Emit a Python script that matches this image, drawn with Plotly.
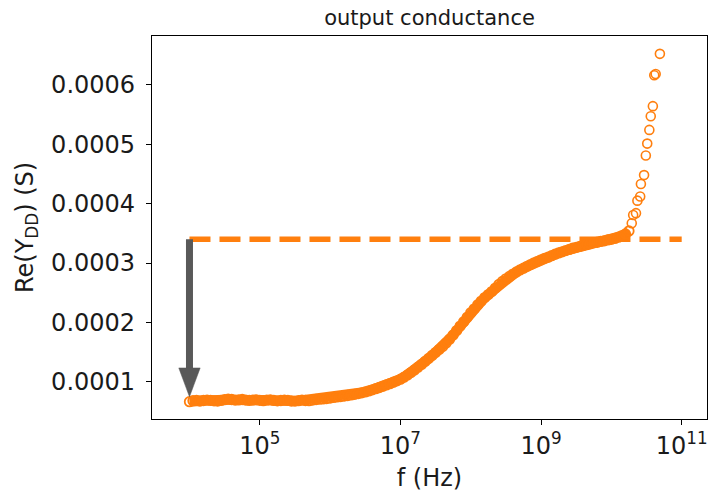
import plotly.graph_objects as go

# ---------------- data ----------------
# dense part of the sweep: log10(frequency) and Re(Y_DD) in units of 1e-5 S
log_f_dense = [
    4.00, 4.05, 4.10, 4.15, 4.20, 4.25, 4.30, 4.35, 4.40, 4.45,
    4.50, 4.55, 4.60, 4.65, 4.70, 4.75, 4.80, 4.85, 4.90, 4.95,
    5.00, 5.05, 5.10, 5.15, 5.20, 5.25, 5.30, 5.35, 5.40, 5.45,
    5.50, 5.55, 5.60, 5.65, 5.70, 5.75, 5.80, 5.85, 5.90, 5.95,
    6.00, 6.05, 6.10, 6.15, 6.20, 6.25, 6.30, 6.35, 6.40, 6.45,
    6.50, 6.55, 6.60, 6.65, 6.70, 6.75, 6.80, 6.85, 6.90, 6.95,
    7.00, 7.05, 7.10, 7.15, 7.20, 7.25, 7.30, 7.35, 7.40, 7.45,
    7.50, 7.55, 7.60, 7.65, 7.70, 7.75, 7.80, 7.85, 7.90, 7.95,
    8.00, 8.05, 8.10, 8.15, 8.20, 8.25, 8.30, 8.35, 8.40, 8.45,
    8.50, 8.55, 8.60, 8.65, 8.70, 8.75, 8.80, 8.85, 8.90, 8.95,
    9.00, 9.05, 9.10, 9.15, 9.20, 9.25, 9.30, 9.35, 9.40, 9.45,
    9.50, 9.55, 9.60, 9.65, 9.70, 9.75, 9.80, 9.85, 9.90, 9.95,
    10.00, 10.05, 10.10, 10.15, 10.20, 10.25,
]
g_dense_e5 = [
    6.68, 6.85, 6.92, 6.80, 6.88, 6.95, 6.90, 6.82, 6.78, 6.90,
    7.02, 7.10, 7.05, 6.95, 6.98, 7.05, 6.96, 6.90, 6.95, 7.00,
    6.92, 6.86, 6.94, 6.98, 6.90, 6.82, 6.88, 6.95, 6.90, 6.80,
    6.78, 6.86, 6.93, 6.88, 6.85, 6.95, 7.05, 7.10, 7.15, 7.22,
    7.30, 7.40, 7.48, 7.55, 7.62, 7.72, 7.82, 7.92, 8.04, 8.18,
    8.33, 8.50, 8.68, 8.87, 9.07, 9.28, 9.50, 9.72, 9.95, 10.20,
    10.47, 10.80, 11.18, 11.58, 12.02, 12.48, 12.95, 13.45, 13.95, 14.45,
    14.95, 15.45, 15.97, 16.55, 17.20, 17.90, 18.65, 19.40, 20.15, 20.90,
    21.65, 22.30, 23.00, 23.60, 24.20, 24.70, 25.20, 25.80, 26.40, 26.90,
    27.35, 27.75, 28.15, 28.50, 28.85, 29.15, 29.45, 29.75, 30.05, 30.30,
    30.55, 30.80, 31.00, 31.25, 31.50, 31.70, 31.90, 32.10, 32.30, 32.50,
    32.65, 32.80, 32.95, 33.10, 33.25, 33.40, 33.50, 33.65, 33.75, 33.90,
    34.00, 34.15, 34.35, 34.60, 34.90, 35.40,
]
# sparse high-frequency tail
log_f_tail = [10.29, 10.31, 10.35, 10.37, 10.41, 10.42, 10.465, 10.49,
              10.51, 10.54, 10.56, 10.59, 10.61, 10.63, 10.69]
g_tail_e5 = [36.7, 38.1, 38.4, 40.5, 41.2, 43.3, 44.8, 48.1,
             50.1, 52.4, 54.7, 56.4, 61.6, 61.8, 65.2]

g_high = 0.00034          # high-frequency plateau (dashed reference)
f_line_end = 1e11          # dashed line end
arrow_tip = 0.000075       # arrow tip level
arrow_head_base = 0.0001236

x_tick_vals = [1e5, 1e7, 1e9, 1e11]
x_tick_text = ["10<sup>5</sup>", "10<sup>7</sup>", "10<sup>9</sup>", "10<sup>11</sup>"]
y_tick_vals = [0.0001, 0.0002, 0.0003, 0.0004, 0.0005, 0.0006]
y_tick_text = ["0.0001", "0.0002", "0.0003", "0.0004", "0.0005", "0.0006"]

# ---------------- derived ----------------
f_dense = [10 ** v for v in log_f_dense]
g_dense = [v * 1e-5 for v in g_dense_e5]
f_tail = [10 ** v for v in log_f_tail]
g_tail = [v * 1e-5 for v in g_tail_e5]
f0 = f_dense[0]
head_half = 10 ** 0.152

ORANGE = "#ff7f0e"
GRAY = "#595959"
FONT = "DejaVu Sans"

fig = go.Figure()

# dashed reference line
fig.add_trace(go.Scatter(
    x=[f0, f_line_end], y=[g_high, g_high], mode="lines",
    line=dict(color=ORANGE, width=5.6, dash="21px,9px"),
    hoverinfo="skip", showlegend=False))

# measured data (dense)
fig.add_trace(go.Scatter(
    x=f_dense, y=g_dense, mode="lines+markers",
    line=dict(color=ORANGE, width=10),
    marker=dict(symbol="circle-open", size=9.5, color=ORANGE,
                line=dict(color=ORANGE, width=1.8)),
    showlegend=False))

# measured data (tail)
fig.add_trace(go.Scatter(
    x=f_tail, y=g_tail, mode="markers",
    marker=dict(symbol="circle-open", size=9, color=ORANGE,
                line=dict(color=ORANGE, width=1.6)),
    showlegend=False))

# arrow shaft
fig.add_trace(go.Scatter(
    x=[f0, f0], y=[g_high, arrow_head_base], mode="lines",
    line=dict(color=GRAY, width=7), hoverinfo="skip", showlegend=False))
# arrow head
fig.add_trace(go.Scatter(
    x=[f0 / head_half, f0 * head_half, f0, f0 / head_half],
    y=[arrow_head_base, arrow_head_base, arrow_tip, arrow_head_base],
    mode="lines", fill="toself", fillcolor=GRAY,
    line=dict(color=GRAY, width=0.5), hoverinfo="skip", showlegend=False))

axis_common = dict(
    showline=True, linecolor="black", linewidth=1.2, mirror=True,
    ticks="outside", ticklen=5, tickwidth=1.2, tickcolor="black",
    showgrid=False, zeroline=False,
    tickfont=dict(family=FONT, size=24, color="#1a1a1a"),
)

fig.update_layout(
    width=712, height=497,
    margin=dict(l=152, r=5, t=36, b=78),
    paper_bgcolor="white", plot_bgcolor="white",
    font=dict(family=FONT, color="#1a1a1a"),
    title=dict(text="output conductance", x=0.5, xref="paper",
               y=1 - 18 / 497, yref="container", yanchor="middle",
               xanchor="center", font=dict(family=FONT, size=21)),
    xaxis=dict(type="log", range=[3.467, 11.36],
               tickvals=x_tick_vals, ticktext=x_tick_text,
               title=dict(text="f (Hz)", font=dict(family=FONT, size=24), standoff=10),
               **axis_common),
    yaxis=dict(range=[0.0000377, 0.000682],
               tickvals=y_tick_vals, ticktext=y_tick_text,
               title=dict(text="Re(Y<sub>DD</sub>) (S)", font=dict(family=FONT, size=24), standoff=10),
               ticklabelstandoff=6,
               **axis_common),
)

fig.write_html("out.html")
